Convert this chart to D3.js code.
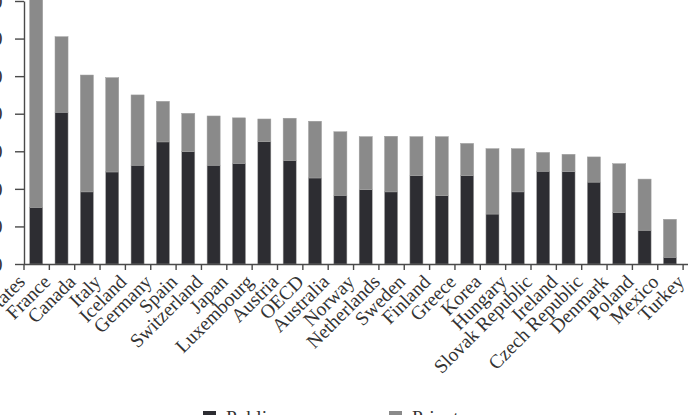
<!DOCTYPE html>
<html>
<head>
<meta charset="utf-8">
<script src="https://cdn.jsdelivr.net/npm/d3@7"></script>
<style>
    body { margin: 0; background: #fff; }
    svg { display: block; }
    text { font-family: "Liberation Serif", "DejaVu Serif", serif; fill: #333; }
</style>
</head>
<body>
<svg id="chart" width="688" height="415"></svg>
<script>
var countries = ["United States", "France", "Canada", "Italy", "Iceland", "Germany", "Spain",
    "Switzerland", "Japan", "Luxembourg", "Austria", "OECD", "Australia", "Norway",
    "Netherlands", "Sweden", "Finland", "Greece", "Korea", "Hungary", "Slovak Republic",
    "Ireland", "Czech Republic", "Denmark", "Poland", "Mexico", "Turkey"];
var publicValues = [151, 404, 192, 245, 263, 325, 299, 263, 268, 326, 276, 229, 183, 198,
    192, 235, 182, 235, 133, 192, 247, 246, 218, 137, 90, 18, 70];
var privateValues = [609, 201, 311, 251, 187, 108, 102, 131, 121, 60, 112, 151, 169, 141,
    148, 104, 157, 86, 174, 115, 50, 46, 67, 130, 136, 101, 30];
var yTicks = [0, 100, 200, 300, 400, 500, 600, 700];
var seriesNames = ["Public", "Private"];

var colorPublic = "#2d2d32";
var colorPrivate = "#8a8a8a";
var axisColor = "#4a4a4a";

var svg = d3.select("#chart");
var left = 23.5;
var step = 25.35;

var x = d3.scaleBand().domain(countries)
    .range([left, left + step * countries.length])
    .paddingInner(0.485).paddingOuter(0.2425);
var xEdge = d3.scaleLinear().domain([0, countries.length])
    .range([left, left + step * countries.length]);
var y = d3.scaleLinear().domain([0, 700]).range([264, 1]);

var rows = countries.map(function (c, i) {
    return { country: c, Public: publicValues[i], Private: privateValues[i] };
});
var stacked = d3.stack().keys(seriesNames)(rows);
var colors = d3.scaleOrdinal().domain(seriesNames).range([colorPublic, colorPrivate]);

var barG = svg.append("g");
barG.selectAll("g").data(stacked).enter().append("g")
    .attr("fill", function (s) { return colors(s.key); })
    .selectAll("rect").data(function (s) { return s; }).enter().append("rect")
    .attr("x", function (d) { return x(d.data.country); })
    .attr("width", x.bandwidth())
    .attr("y", function (d) { return y(d[1]); })
    .attr("height", function (d) { return y(d[0]) - y(d[1]); })
    .attr("stroke", "#a0a0a0")
    .attr("stroke-width", 0.5);

// y axis, labels mostly cut off on the left edge
var yAxis = svg.append("g").attr("transform", "translate(24,0)")
    .call(d3.axisLeft(y).tickValues(yTicks).tickSize(9).tickPadding(12.5).tickSizeOuter(0));
yAxis.selectAll("text").style("font-size", "19.5px").attr("fill", "#333");

// x axis with ticks between the bars
var xAxis = svg.append("g").attr("transform", "translate(0," + y(0) + ")")
    .call(d3.axisBottom(xEdge).tickValues(d3.range(0, countries.length + 1))
        .tickFormat("").tickSize(6).tickSizeOuter(0));

svg.selectAll(".domain, .tick line").attr("stroke", axisColor).attr("stroke-width", 1.4);

svg.append("g").selectAll("text").data(countries).enter().append("text")
    .attr("transform", function (d) {
        return "translate(" + (x(d) + x.bandwidth() / 2 - 10) + ",283) rotate(-45)";
    })
    .attr("text-anchor", "end")
    .style("font-size", "19.5px")
    .text(function (d) { return d; });

// legend, cut by the bottom edge
var legendX = [203, 389];
var legend = svg.append("g").selectAll("g").data(seriesNames).enter().append("g")
    .attr("transform", function (d, i) { return "translate(" + legendX[i] + ",411)"; });
legend.append("rect").attr("width", 13).attr("height", 13)
    .attr("fill", function (d) { return colors(d); });
legend.append("text").attr("x", 23).attr("y", 13)
    .style("font-size", "19.5px")
    .text(function (d) { return d; });
</script>
</body>
</html>
